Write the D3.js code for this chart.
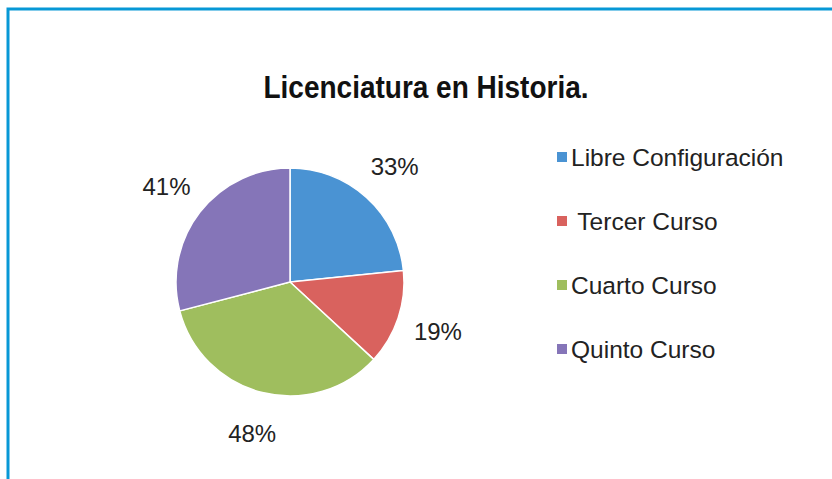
<!DOCTYPE html>
<html>
<head>
<meta charset="utf-8">
<script src="https://cdn.jsdelivr.net/npm/d3@7"></script>
<style>
  body { margin: 0; background: #fff; }
  svg { display: block; font-family: "Liberation Sans", Arial, sans-serif; }
</style>
</head>
<body>
<svg id="chart" width="832" height="479"></svg>
<script>
// chart data
const title = "Licenciatura en Historia.";
const categories = ["Libre Configuración", " Tercer Curso", "Cuarto Curso", "Quinto Curso"];
const values = [33, 19, 48, 41];
const colors = ["#4a93d3", "#d9625e", "#9fbe5e", "#8575b8"];

const svg = d3.select("#chart");

// blue frame, open at right and bottom
svg.append("path")
    .attr("d", "M8,479 V9 H832")
    .attr("fill", "none")
    .attr("stroke", "#0798d6")
    .attr("stroke-width", 3);

// title is a bit stretched vertically in the original
svg.append("text")
    .attr("transform", "translate(426,98) scale(1,1.15)")
    .attr("text-anchor", "middle")
    .attr("font-size", 28)
    .attr("font-weight", "bold")
    .attr("fill", "#111")
    .text(title);

// pie
const cx = 290, cy = 282, r = 114;
const pie = d3.pie().sort(null).value(d => d)(values);
const arc = d3.arc().innerRadius(0).outerRadius(r);
const labelArc = d3.arc().innerRadius(156).outerRadius(156);

const g = svg.append("g").attr("transform", `translate(${cx},${cy})`);

g.selectAll("path.slice")
    .data(pie)
    .join("path")
    .attr("class", "slice")
    .attr("d", arc)
    .attr("fill", (d, i) => colors[i])
    .attr("stroke", "#fff")
    .attr("stroke-width", 1.5);

g.selectAll("text.pct")
    .data(pie)
    .join("text")
    .attr("class", "pct")
    .attr("transform", d => `translate(${labelArc.centroid(d)})`)
    .attr("text-anchor", "middle")
    .attr("dy", "0.36em")
    .attr("font-size", 24)
    .attr("fill", "#222")
    .text(d => d.data + "%");

// legend
const legendY = d3.scalePoint().domain(d3.range(categories.length)).range([157, 349]);
const legend = svg.append("g").selectAll("g")
    .data(categories)
    .join("g")
    .attr("transform", (d, i) => `translate(557,${legendY(i)})`);

legend.append("rect")
    .attr("x", 0).attr("y", -5)
    .attr("width", 10).attr("height", 10)
    .attr("fill", (d, i) => colors[i]);

legend.append("text")
    .attr("x", 14)
    .attr("dy", "0.36em")
    .attr("font-size", 24.5)
    .attr("fill", "#222")
    .style("white-space", "pre")
    .text(d => d);
</script>
</body>
</html>
